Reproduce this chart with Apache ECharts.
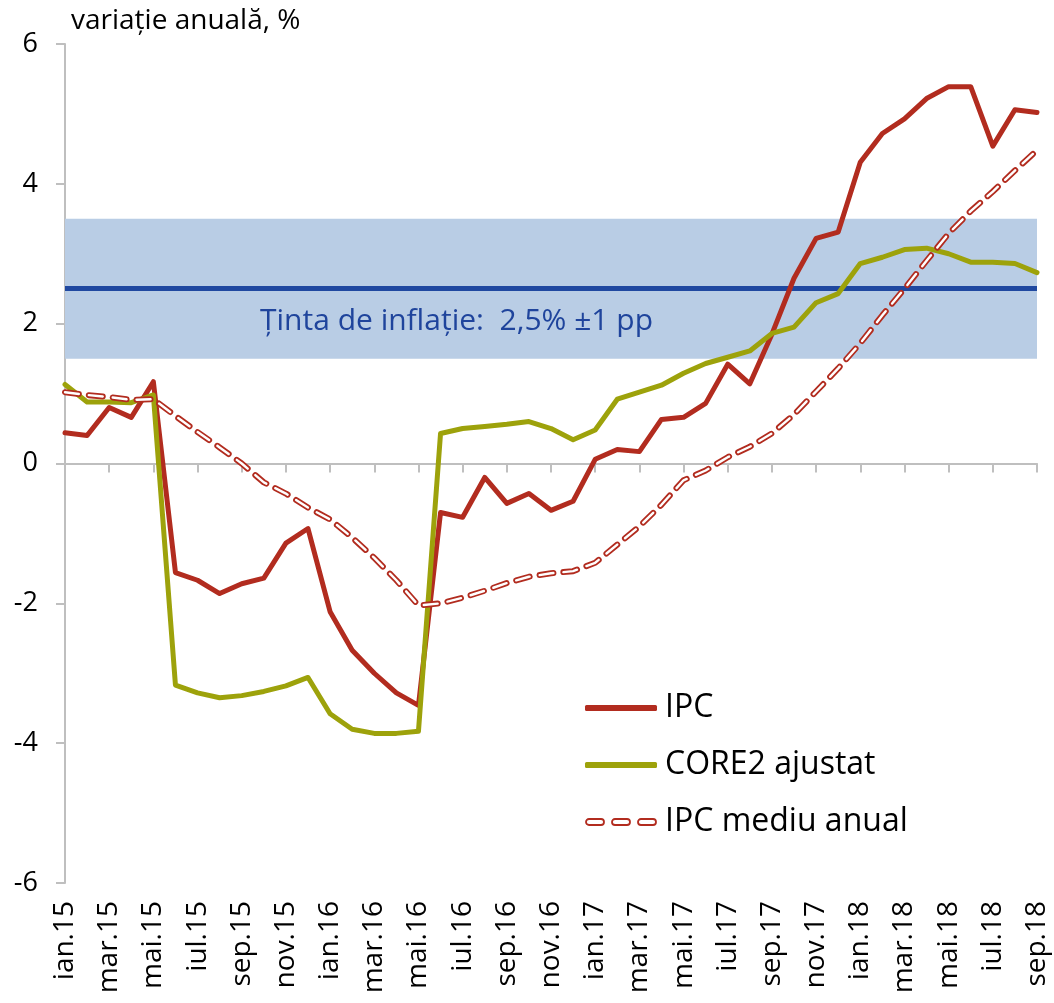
<!DOCTYPE html>
<html>
<head>
<meta charset="utf-8">
<title>Inflația anuală</title>
<script src="https://cdn.jsdelivr.net/npm/echarts@6/dist/echarts.min.js"></script>
<style>
  html, body { margin: 0; padding: 0; background: #fff; }
  #chart { width: 1054px; height: 1003px; }
</style>
</head>
<body>
<div id="chart"></div>
<script>
// luni ian.15 - sep.18
const months = [
  'ian.15', 'feb.15', 'mar.15', 'apr.15', 'mai.15', 'iun.15', 'iul.15', 'aug.15', 'sep.15', 'oct.15', 'nov.15', 'dec.15',
  'ian.16', 'feb.16', 'mar.16', 'apr.16', 'mai.16', 'iun.16', 'iul.16', 'aug.16', 'sep.16', 'oct.16', 'nov.16', 'dec.16',
  'ian.17', 'feb.17', 'mar.17', 'apr.17', 'mai.17', 'iun.17', 'iul.17', 'aug.17', 'sep.17', 'oct.17', 'nov.17', 'dec.17',
  'ian.18', 'feb.18', 'mar.18', 'apr.18', 'mai.18', 'iun.18', 'iul.18', 'aug.18', 'sep.18'
]

const ipc = [
  0.44, 0.40, 0.80, 0.66, 1.17, -1.56, -1.67, -1.86, -1.72, -1.64, -1.14, -0.93,
  -2.12, -2.67, -3.00, -3.28, -3.46, -0.70, -0.77, -0.20, -0.57, -0.43, -0.67, -0.54,
  0.06, 0.20, 0.17, 0.63, 0.66, 0.86, 1.42, 1.14, 1.85, 2.65, 3.22, 3.31,
  4.31, 4.72, 4.93, 5.22, 5.39, 5.39, 4.54, 5.06, 5.02
]

const core2 = [
  1.13, 0.88, 0.88, 0.87, 0.98, -3.17, -3.28, -3.35, -3.32, -3.26, -3.18, -3.06,
  -3.58, -3.80, -3.86, -3.86, -3.83, 0.43, 0.50, 0.53, 0.56, 0.60, 0.50, 0.34,
  0.48, 0.92, 1.02, 1.12, 1.29, 1.43, 1.52, 1.61, 1.86, 1.95, 2.30, 2.43,
  2.86, 2.95, 3.06, 3.08, 3.00, 2.88, 2.88, 2.86, 2.73
]

const ipcMediu = [
  1.02, 0.98, 0.95, 0.91, 0.92, 0.68, 0.45, 0.23, 0.00, -0.27, -0.43, -0.63,
  -0.80, -1.06, -1.35, -1.67, -2.03, -2.00, -1.92, -1.82, -1.71, -1.62, -1.57, -1.54,
  -1.42, -1.16, -0.90, -0.59, -0.24, -0.10, 0.09, 0.24, 0.43, 0.70, 1.03, 1.36,
  1.72, 2.12, 2.50, 2.90, 3.29, 3.61, 3.89, 4.19, 4.48
]

// tinta de inflatie 2,5% +/- 1 pp
const target = 2.5
const targetBand = [1.5, 3.5]

const RED = '#b22c1f'
const OLIVE = '#9da20b'
const BLUE = '#1f48a0'
const GRID = '#bfbfbf'
const FONT = 'Open Sans'

const dashIcon = 'path://M3,0 H15 A3,3 0 0 1 15,6 H3 A3,3 0 0 1 3,0 Z ' +
  'M29,0 H41 A3,3 0 0 1 41,6 H29 A3,3 0 0 1 29,0 Z ' +
  'M55,0 H67 A3,3 0 0 1 67,6 H55 A3,3 0 0 1 55,0 Z'

const chart = echarts.init(document.getElementById('chart'))

const option = {
  animation: false,
  textStyle: { fontFamily: FONT },
  title: {
    text: 'variație anuală, %',
    left: 66,
    top: 2,
    textStyle: { fontSize: 28, fontWeight: 'normal', color: '#000', fontFamily: FONT }
  },
  legend: {
    orient: 'vertical',
    left: 580,
    top: 686,
    itemWidth: 72,
    itemHeight: 6,
    itemGap: 23,
    textStyle: { fontSize: 32, color: '#000', fontFamily: FONT, lineHeight: 34, padding: [0, 0, 0, 3] },
    data: [
      { name: 'IPC', icon: 'roundRect', itemStyle: { color: RED, borderWidth: 0 } },
      { name: 'CORE2 ajustat', icon: 'roundRect', itemStyle: { color: OLIVE, borderWidth: 0 } },
      { name: 'IPC mediu anual', icon: dashIcon, itemStyle: { color: '#fff', borderColor: RED, borderWidth: 1.8 } }
    ]
  },
  grid: { left: 65, right: 17, top: 44, bottom: 120, containLabel: false, outerBoundsMode: 'none' },
  xAxis: [
    {
      type: 'category',
      data: months,
      boundaryGap: false,
      position: 'bottom',
      axisLine: { show: false, onZero: false },
      axisTick: { show: false },
      axisLabel: { interval: 1, rotate: 90, fontSize: 28, color: '#000', margin: 18, fontFamily: FONT }
    },
    {
      type: 'category',
      data: months,
      boundaryGap: false,
      position: 'bottom',
      axisLine: { show: true, onZero: true, lineStyle: { color: GRID, width: 2 } },
      axisTick: { show: true, interval: 1, length: 9, lineStyle: { color: GRID, width: 2 } },
      axisLabel: { show: false }
    }
  ],
  yAxis: {
    type: 'value',
    min: -6,
    max: 6,
    interval: 2,
    axisLine: { show: true, lineStyle: { color: GRID, width: 2 } },
    axisTick: { show: true, length: 9, lineStyle: { color: GRID, width: 2 } },
    splitLine: { show: false },
    axisLabel: { fontSize: 27, color: '#000', margin: 27, fontFamily: FONT }
  },
  graphic: [
    {
      type: 'text',
      left: 260,
      top: 306,
      z: 10,
      style: { text: 'Ținta de inflație:  2,5% ±1 pp', fontSize: 30, fill: '#1f449c', fontFamily: FONT }
    }
  ],
  series: [
    {
      name: 'IPC',
      type: 'line',
      data: ipc,
      symbol: 'none',
      z: 3,
      itemStyle: { color: RED },
      lineStyle: { color: RED, width: 5, join: 'round', cap: 'round' },
      markArea: {
        silent: true,
        z: 1,
        itemStyle: { color: '#b9cde5' },
        data: [[{ yAxis: targetBand[0] }, { yAxis: targetBand[1] }]]
      },
      markLine: {
        silent: true,
        z: 2,
        symbol: 'none',
        label: { show: false },
        lineStyle: { color: BLUE, width: 5, type: 'solid' },
        data: [{ yAxis: target }]
      }
    },
    {
      name: 'CORE2 ajustat',
      type: 'line',
      data: core2,
      symbol: 'none',
      z: 4,
      itemStyle: { color: OLIVE },
      lineStyle: { color: OLIVE, width: 5, join: 'round', cap: 'round' }
    },
    {
      name: 'IPC mediu anual',
      type: 'line',
      data: ipcMediu,
      symbol: 'none',
      z: 5,
      itemStyle: { color: RED },
      lineStyle: { color: RED, width: 6, type: [14, 10], cap: 'round', join: 'round' }
    },
    {
      // interiorul alb al liniei punctate
      name: 'IPC mediu anual (interior)',
      type: 'line',
      data: ipcMediu,
      symbol: 'none',
      z: 6,
      silent: true,
      itemStyle: { color: '#fff' },
      lineStyle: { color: '#fff', width: 2.4, type: [14, 10], cap: 'round', join: 'round' }
    }
  ]
}

chart.setOption(option)
</script>
</body>
</html>
